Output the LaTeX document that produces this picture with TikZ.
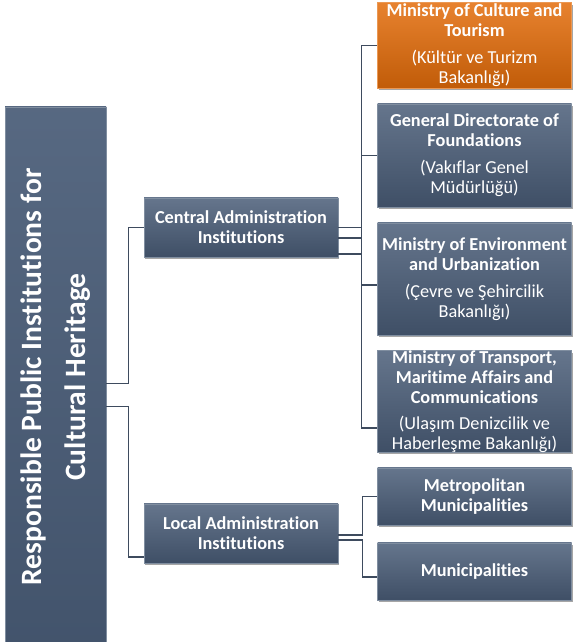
\documentclass[tikz,border=0pt]{standalone}
\usepackage{fontspec}
\setmainfont{Carlito}[Ligatures=CommonOff]
\usetikzlibrary{positioning,calc,shadows}
\definecolor{slate}{HTML}{4A5D78}
\definecolor{amber}{HTML}{E36C0A}
\definecolor{wire}{HTML}{3E4B5E}
\tikzset{
  unit/.style={draw=#1!70!white,line width=0.5pt,top color=#1!85!white,bottom color=#1!85!black,
    text=white,align=center,minimum width=4.85cm,inner sep=1pt,
    drop shadow={shadow xshift=0.03cm,shadow yshift=-0.05cm,opacity=0.35,fill=black}},
  unit/.default=slate,
  lead/.style={unit=slate,top color=slate!93!white,bottom color=slate!90!black,
    font=\bfseries\fontsize{21}{31}\selectfont},
  link/.style={draw=wire,line width=0.9pt},
}
\begin{document}
\begin{tikzpicture}[font=\bfseries\fontsize{13}{14.2}\selectfont]
    \useasboundingbox (0,0) rectangle (14.4,16.05);

    % root, turned on its side
    \node[lead,rotate=90,minimum width=13.5cm,minimum height=2.525cm] (root) at (1.3875,6.625)
      {Responsible Public Institutions for\\Cultural Heritage};

    \node[unit,minimum height=1.475cm] (cent) at (6.025,10.3625) {Central Administration\\Institutions};
    \node[unit,minimum height=1.475cm] (loc)  at (6.025,2.7125)  {Local Administration\\Institutions};

    \node[unit=amber,minimum height=2.125cm] (cult) at (11.8625,14.9125)
      {Ministry of Culture and\\Tourism\\[5pt]\mdseries (Kültür ve Turizm\\\mdseries Bakanlığı)};
    \node[unit,minimum height=2.575cm] (gen) at (11.8625,12.1625)
      {General Directorate of\\Foundations\\[5pt]\mdseries (Vakıflar Genel\\\mdseries Müdürlüğü)};
    \node[unit,minimum height=2.8cm] (env) at (11.8625,9.075)
      {Ministry of Environment\\and Urbanization\\[5pt]\mdseries (Çevre ve Şehircilik\\\mdseries Bakanlığı)};
    \node[unit,minimum height=2.475cm,inner ysep=0pt] (trans) at (11.8625,6.0125)
      {Ministry of Transport,\\Maritime Affairs and\\Communications\\[4pt]\mdseries (Ulaşım Denizcilik ve\\\mdseries Haberleşme Bakanlığı)};
    \node[unit,minimum height=1.425cm] (metro) at (11.8625,3.6375) {Metropolitan\\Municipalities};
    \node[unit,minimum height=1.425cm] (muni)  at (11.8625,1.7625) {Municipalities};

    % elbow connectors (root.south is its right side after the turn)
    \draw[link] ($(root.south)+(0,-0.1625)$) -- ++(0.55,0) |- (cent.west);
    \draw[link] ($(root.south)+(0,-0.7375)$) -- ++(0.55,0) |- ($(loc.west)+(0,-0.5875)$);

    \draw[link] (cent.east) -- ++(0.575,0) |- (cult.west);
    \draw[link] ($(cent.east)+(0,-0.2625)$) -- ++(0.575,0) |- (gen.west);
    \draw[link] ($(cent.east)+(0,-0.2625)$) -- ++(0.575,0) |- ($(env.west)+(0,-0.15)$);
    \draw[link] ($(cent.east)+(0,-0.6625)$) -- ++(0.575,0) |- ($(trans.west)+(0,-0.6625)$);

    \draw[link] ($(loc.east)+(0,-0.0375)$) -- ++(0.6,0) |- (metro.west);
    \draw[link] ($(loc.east)+(0,-0.1625)$) -- ++(0.6,0) |- ($(muni.west)+(0,-0.1375)$);
  \end{tikzpicture}
\end{document}
